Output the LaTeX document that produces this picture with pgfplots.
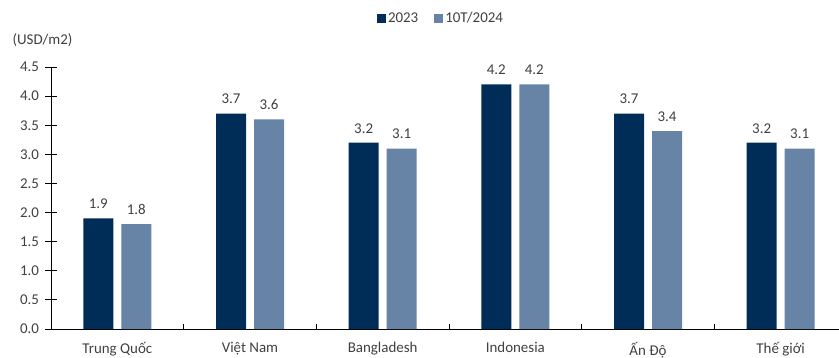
\documentclass[border=0pt]{standalone}
\usepackage{pgfplots}
\pgfplotsset{compat=1.18}
\usepackage{fontspec}
\setmainfont{Carlito}
\definecolor{darkbar}{HTML}{002D57}
\definecolor{lightbar}{HTML}{6783A6}
\definecolor{txt}{HTML}{404040}
\begin{document}
\begin{tikzpicture}[x=1bp,y=1bp]
\useasboundingbox (-51bp,-29bp) rectangle (788bp,329bp);
\begin{axis}[
  at={(0,0)}, anchor=south west,
  scale only axis, width=796bp, height=262bp,
  xmin=-0.5, xmax=5.5, ymin=0, ymax=4.5,
  axis x line=bottom, axis y line=left,
  axis line style={black, line width=0.8pt, -},
  ybar=8bp, bar width=30bp,
  xtick={0,1,2,3,4,5},
  xticklabels={Trung Quốc, Việt Nam, Bangladesh, Indonesia, Ấn Độ, Thế giới},
  minor xtick={0.5,1.5,2.5,3.5,4.5},
  xtick align=inside,
  major x tick style={draw=none},
  minor x tick style={black, line width=0.8pt},
  minor tick length=5bp,
  ytick={0,0.5,...,4.5},
  ytick align=center,
  major tick length=11bp,
  y tick style={black, line width=0.8pt},
  yticklabel style={/pgf/number format/fixed, /pgf/number format/fixed zerofill, /pgf/number format/precision=1},
  /pgf/number format/assume math mode=true,
  ticklabel style={font=\fontsize{15}{18}\selectfont, text=txt},
  xticklabel style={yshift=-10bp},
  yticklabel style={xshift=-3bp},
  nodes near coords,
  nodes near coords style={font=\fontsize{15}{18}\selectfont, text=txt,
    /pgf/number format/fixed, /pgf/number format/fixed zerofill, /pgf/number format/precision=1, /pgf/number format/assume math mode=true},
  every node near coord/.append style={yshift=6bp},
  legend columns=2,
  legend style={at={(0.5,1)}, anchor=center, yshift=49bp, xshift=-8bp, draw=none,
    font=\fontsize{15}{18}\selectfont, text=txt, fill=none,
    /tikz/every even column/.append style={column sep=14bp}},
  legend image code/.code={\fill[#1, draw=none] (0bp,-4.5bp) rectangle (9bp,4.5bp);},
  clip=false,
]
\addplot[fill=darkbar, draw=none] coordinates {(0,1.9) (1,3.7) (2,3.2) (3,4.2) (4,3.7) (5,3.2)};
\addplot[fill=lightbar, draw=none] coordinates {(0,1.8) (1,3.6) (2,3.1) (3,4.2) (4,3.4) (5,3.1)};
\legend{2023, 10T/2024}
\node[anchor=west, font=\fontsize{15}{18}\selectfont, text=txt] at (rel axis cs:0,1) [xshift=-42bp, yshift=27bp] {(USD/m2)};
\end{axis}
\end{tikzpicture}
\end{document}
